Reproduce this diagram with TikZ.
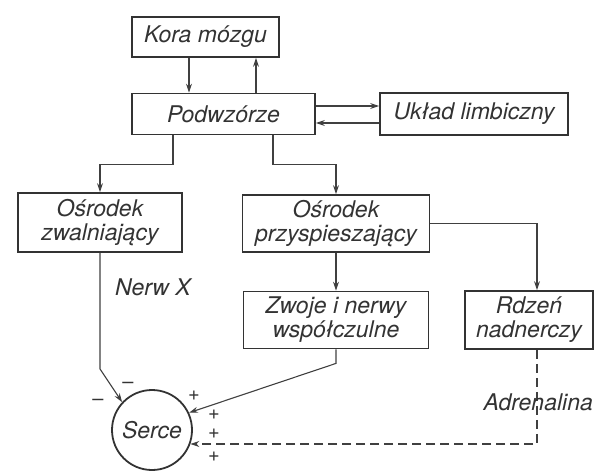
\documentclass[tikz,border=0pt]{standalone}
\usepackage{fontspec}
\setmainfont{TeX Gyre Heros}
\usetikzlibrary{arrows.meta}
\begin{document}
\begin{tikzpicture}[x=1pt,y=-1pt,
    box/.style={draw=black!80,line width=1.8pt,inner sep=0pt,align=center,
      font=\fontsize{23}{24}\selectfont\itshape,text=black!80},
    arr/.style={draw=black!75,line width=1.1pt,-{Stealth[length=9pt,width=6pt]}},
    sign/.style={inner sep=0pt,font=\fontsize{20}{20}\selectfont,text=black!80},
    lbl/.style={font=\fontsize{23}{24}\selectfont\itshape,text=black!80}]
  \useasboundingbox (0,0) rectangle (595,472);%

  \node[box,minimum width=147,minimum height=40] (K) at (205.5,37) {Kora mózgu};%
  \node[box,minimum width=183,minimum height=41] (P) at (223.5,114) {Podwzórze};%
  \node[box,minimum width=188,minimum height=42] (U) at (474,114) {Układ limbiczny};%

  \node[box,minimum width=164,minimum height=59] (Z) at (100,222.5) {Ośrodek\\zwalniający};%
  \node[box,minimum width=187,minimum height=57] (Pr) at (336,223.5) {Ośrodek\\przyspieszający};%
  \node[box,minimum width=185,minimum height=57] (W) at (336,320) {Zwoje i nerwy\\współczulne};%
  \node[box,minimum width=128,minimum height=58] (R) at (529,320) {Rdzeń\\nadnerczy};%

  \node[draw=black!80,line width=1.8pt,circle,minimum size=80,inner sep=0pt,
    font=\fontsize{23}{24}\selectfont\itshape,text=black!80] (S) at (152,430) {Serce};%

  \draw[arr] ([xshift=-16.5pt]K.south) -- ([xshift=-34.5pt]P.north);%
  \draw[arr] ([xshift=32.5pt]P.north) -- ([xshift=50.5pt]K.south);%

  \draw[arr] ([yshift=8pt]P.east) -- ([yshift=8pt]U.west);%
  \draw[arr] ([yshift=-9pt]U.west) -- ([yshift=-9pt]P.east);%

  \draw[arr] ([xshift=-50.5pt]P.south) -- ++(0,29) -| (Z.north);%
  \draw[arr] ([xshift=49.5pt]P.south) -- ++(0,29) -| (Pr.north);%

  \draw[arr] (Pr.south) -- (W.north);%
  \draw[arr] (Pr.east) -| ([xshift=8pt]R.north);%

  \draw[arr] (Z.south) -- ++(0,116) -- (S.137);%
  \draw[arr] (W.south) -- ++(0,14) -- (S.25);%
  \draw[arr,dashed,dash pattern=on 9pt off 5pt] ([xshift=8pt]R.south) |- (S.-20);%

  \node[lbl] (nerw) at (153,287) {Nerw X};%
  \node[lbl,anchor=east,inner sep=1pt] (adr) at (594,402) {Adrenalina};%

  \node[sign] (m1) at (98,402) {–};%
  \node[sign] (m2) at (128,385) {–};%
  \node[sign] (p1) at (194,396) {+};%
  \node[sign] (p2) at (214,415) {+};%
  \node[sign] (p3) at (214,434) {+};%
  \node[sign] (p4) at (214,457) {+};%
\end{tikzpicture}
\end{document}
